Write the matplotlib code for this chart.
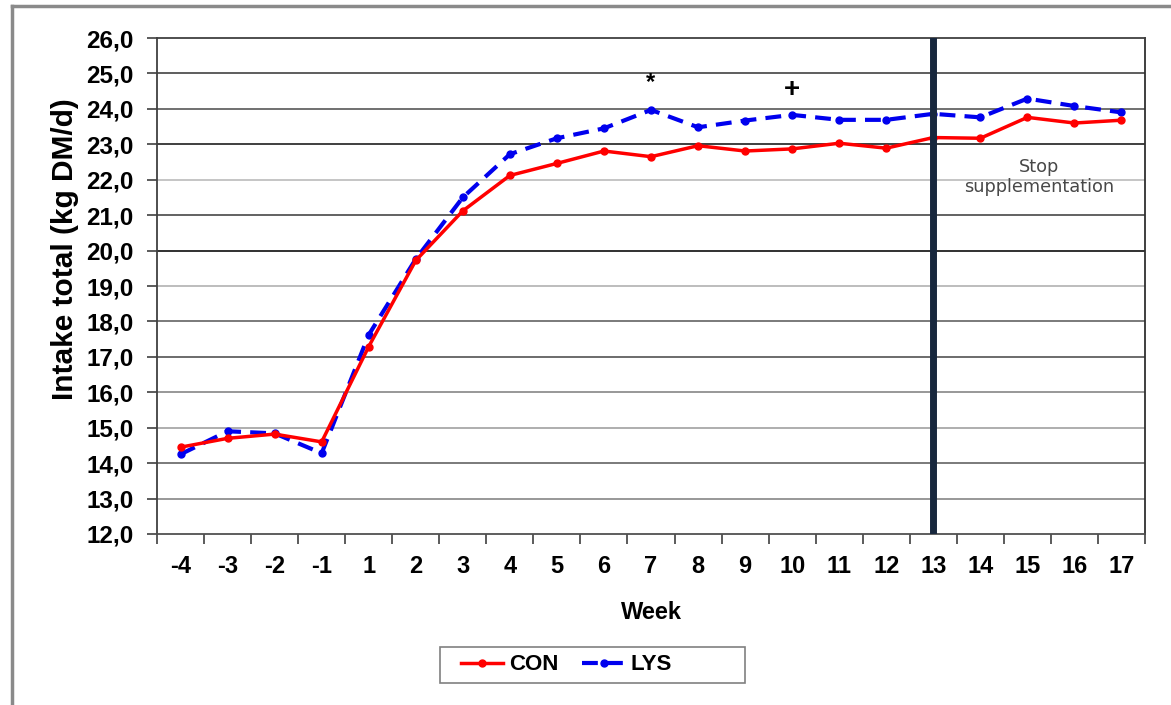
import numpy as np
import matplotlib
matplotlib.use('Agg')
import matplotlib.pyplot as plt
from matplotlib.lines import Line2D
from matplotlib.patches import Rectangle

# weekly total intake (kg DM/d)
weeks = ['-4', '-3', '-2', '-1', '1', '2', '3', '4', '5', '6', '7', '8', '9',
         '10', '11', '12', '13', '14', '15', '16', '17']
con = [14.45, 14.70, 14.82, 14.60, 17.29, 19.72, 21.12, 22.12, 22.46, 22.81,
       22.65, 22.96, 22.81, 22.87, 23.03, 22.89, 23.19, 23.17, 23.76, 23.60, 23.68]
lys = [14.25, 14.90, 14.84, 14.28, 17.62, 19.76, 21.50, 22.72, 23.17, 23.45,
       23.97, 23.48, 23.67, 23.83, 23.69, 23.69, 23.86, 23.76, 24.29, 24.08, 23.90]
yticks = np.arange(12, 27, 1)
stop_week = '13'
marks = [('7', 24.75, '*'), ('10', 24.52, '+')]

plt.rcParams['font.family'] = ['Liberation Sans', 'DejaVu Sans']

fig = plt.figure(figsize=(11.71, 7.05), dpi=100)
ax = fig.add_axes([157/1171, 1-534/705, (1145-157)/1171, (534-38)/705])

x = np.arange(len(weeks))

# grid lines (colours vary like in the original export)
grid_col = {13: '#909090', 14: '#707070', 15: '#a8a8a8', 16: '#909090', 17: '#606060',
            18: '#707070', 19: '#b8b8b8', 20: '#202020', 21: '#555555', 22: '#c0c0c0',
            23: '#303030', 24: '#656565', 25: '#505050'}
for v, c in grid_col.items():
    ax.axhline(v, color=c, lw=1.3, zorder=1)

ax.plot(x, con, color='#ff0000', lw=2.5, marker='o', ms=5, label='CON', zorder=4)
ax.plot(x, lys, color='#0000ee', lw=3, ls=(0, (3.8, 2.2)), marker='o', ms=5,
        label='LYS', zorder=3)

ax.axvline(weeks.index(stop_week), color='#17273d', lw=5, zorder=5)

for wk, yv, s in marks:
    ax.text(weeks.index(wk), yv, s, ha='center', va='center',
            fontsize=20 if s == '+' else 17, fontweight='bold')

ax.text(18.24, 22.08, 'Stop\nsupplementation', ha='center', va='center',
        fontsize=12.8, color='#484848', family='DejaVu Sans', linespacing=1.1)

ax.set_xlim(-0.5, len(weeks) - 0.5)
ax.set_ylim(12, 26)
ax.set_yticks(yticks)
ax.set_yticklabels(['%d,0' % v for v in yticks])
ax.set_xticks(np.arange(-0.5, len(weeks), 1))
ax.set_xticklabels([])
ax.set_xticks(x, minor=True)
ax.set_xticklabels(weeks, minor=True)
ax.tick_params(axis='y', length=7, width=1.2, pad=10, labelsize=17.5, color='#404040')
ax.tick_params(axis='x', which='major', length=7, width=1.2, color='#404040')
ax.tick_params(axis='x', which='minor', length=0, pad=15, labelsize=17)
for lab in ax.get_yticklabels() + ax.get_xticklabels(minor=True):
    lab.set_fontweight('bold')

for side, c in [('top', '#404040'), ('left', '#404040'), ('bottom', '#505050'), ('right', '#303030')]:
    ax.spines[side].set_color(c)
    ax.spines[side].set_linewidth(1.3)

ax.set_xlabel('Week', fontsize=17, fontweight='bold', labelpad=17)
ax.set_ylabel('Intake total (kg DM/d)', fontsize=21.5, fontweight='bold')
ax.yaxis.set_label_coords(-0.079, 0.575)

# legend box drawn separately, entries placed inside it
fig.add_artist(Rectangle((440/1171, 1-683/705), 305/1171, 36/705, transform=fig.transFigure,
                         fill=False, edgecolor='#808080', lw=1.2))
leg = fig.legend(loc='center left', ncol=2, fontsize=16, handlelength=1.9,
                 handletextpad=0.25, columnspacing=1.1, frameon=False,
                 bbox_to_anchor=(452/1171, 1-665/705), borderaxespad=0)
for t in leg.get_texts():
    t.set_fontweight('bold')

# outer frame (top and left edges only)
fig.add_artist(Line2D([12/1171, 12/1171], [0, 1-6/705], transform=fig.transFigure,
                      color='#8a8a8a', lw=2.5))
fig.add_artist(Line2D([12/1171, 1], [1-6/705, 1-6/705], transform=fig.transFigure,
                      color='#8a8a8a', lw=2.5))

fig.savefig('out.png', dpi=100)
